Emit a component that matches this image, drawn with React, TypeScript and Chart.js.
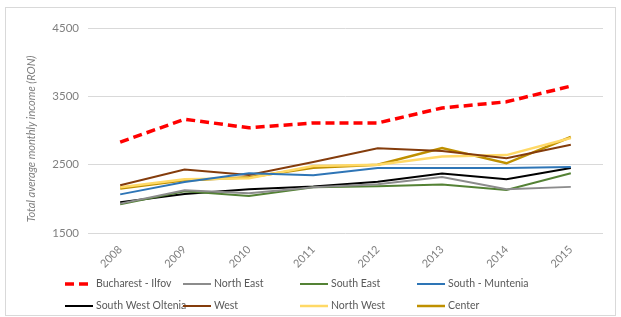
import React, { useEffect, useRef } from "react";
import { Chart, registerables } from "chart.js";

Chart.register(...registerables);

const years = ["2008", "2009", "2010", "2011", "2012", "2013", "2014", "2015"];
const bucharestIlfov = [2830, 3165, 3040, 3110, 3110, 3330, 3420, 3650];
const northEast = [1930, 2125, 2080, 2170, 2215, 2320, 2140, 2175];
const southEast = [1920, 2110, 2040, 2170, 2185, 2210, 2130, 2375];
const southMuntenia = [2065, 2245, 2375, 2345, 2450, 2450, 2450, 2465];
const southWestOltenia = [1950, 2070, 2140, 2180, 2250, 2370, 2285, 2450];
const west = [2200, 2430, 2350, 2540, 2740, 2700, 2595, 2790];
const northWest = [2170, 2285, 2300, 2480, 2500, 2620, 2640, 2890];
const center = [2150, 2270, 2315, 2455, 2500, 2745, 2520, 2905];
const yTicks = [1500, 2500, 3500, 4500];
const yTitle = "Total average monthly income (RON)";

const FONT = "Lato, 'Liberation Sans', Arial, sans-serif";
const TEXT = "#595959";

const series = [
  { label: "Bucharest - Ilfov", data: bucharestIlfov, color: "#ff0000", width: 3.5, dash: [9, 5] },
  { label: "North East", data: northEast, color: "#8c8c8c", width: 2, dash: [] },
  { label: "South East", data: southEast, color: "#548235", width: 2, dash: [] },
  { label: "South - Muntenia", data: southMuntenia, color: "#2e75b6", width: 2, dash: [] },
  { label: "South West Oltenia", data: southWestOltenia, color: "#000000", width: 2, dash: [] },
  { label: "West", data: west, color: "#843c0c", width: 2, dash: [] },
  { label: "North West", data: northWest, color: "#ffd966", width: 2.5, dash: [] },
  { label: "Center", data: center, color: "#bf9000", width: 2.5, dash: [] },
];

const frameLegendPlugin = {
  id: "frameLegend",
  beforeDraw(chart: any) {
    const ctx = chart.ctx;
    ctx.save();
    ctx.fillStyle = "#ffffff";
    ctx.fillRect(0, 0, chart.width, chart.height);
    ctx.strokeStyle = "#d9d9d9";
    ctx.lineWidth = 1;
    ctx.strokeRect(5.5, 7.5, chart.width - 11, chart.height - 9);
    ctx.restore();
  },
  afterDraw(chart: any) {
    const ctx = chart.ctx;
    ctx.save();
    // y-axis title
    ctx.translate(31, 139);
    ctx.rotate(-Math.PI / 2);
    ctx.font = `italic 11px ${FONT}`;
    ctx.fillStyle = "#7f7f7f";
    ctx.textAlign = "center";
    ctx.textBaseline = "middle";
    ctx.fillText(yTitle, 0, 0);
    ctx.restore();

    ctx.save();
    const colX = [65, 183, 300, 417];
    const rowY = [284, 306];
    ctx.font = `10.5px ${FONT}`;
    ctx.textBaseline = "middle";
    chart.data.datasets.forEach((ds: any, i: number) => {
      const x = colX[i % 4];
      const y = rowY[Math.floor(i / 4)];
      ctx.beginPath();
      ctx.strokeStyle = ds.borderColor;
      ctx.lineWidth = ds.borderWidth;
      ctx.setLineDash(ds.borderDash || []);
      ctx.moveTo(x, y);
      ctx.lineTo(x + 28, y);
      ctx.stroke();
      ctx.setLineDash([]);
      ctx.fillStyle = TEXT;
      ctx.fillText(ds.label, x + 31, y);
    });
    ctx.restore();
  },
};

export default function App() {
  const ref = useRef<HTMLCanvasElement | null>(null);
  useEffect(() => {
    if (!ref.current) return;
    const chart = new Chart(ref.current, {
      type: "line",
      data: {
        labels: years,
        datasets: series.map((s) => ({
          label: s.label,
          data: s.data,
          borderColor: s.color,
          backgroundColor: s.color,
          borderWidth: s.width,
          borderDash: s.dash,
          pointRadius: 0,
          tension: 0,
          fill: false,
        })),
      },
      options: {
        animation: false,
        responsive: false,
        maintainAspectRatio: false,
        layout: { padding: { left: 21, right: 18, top: 28, bottom: 0 } },
        plugins: { legend: { display: false }, tooltip: { enabled: false } },
        scales: {
          x: {
            offset: true,
            grid: { display: false },
            border: { display: false },
            ticks: {
              color: "#7f7f7f",
              font: { family: FONT, size: 11 },
              minRotation: 45,
              maxRotation: 45,
              padding: 2,
            },
            afterFit(scale: any) {
              scale.height = 84;
            },
          },
          y: {
            min: 1500,
            max: 4500,
            afterBuildTicks(scale: any) {
              scale.ticks = yTicks.map((v) => ({ value: v }));
            },
            grid: { color: "#d9d9d9", lineWidth: 1, drawTicks: false },
            border: { display: false },
            ticks: {
              color: "#7f7f7f",
              font: { family: FONT, size: 11.5 },
              padding: 9,
              callback: (v: any) => String(v),
            },
            afterFit(scale: any) {
              scale.width = 67;
            },
          },
        },
      },
      plugins: [frameLegendPlugin],
    });
    return () => chart.destroy();
  }, []);
  return (
    <div style={{ position: "fixed", left: 0, top: 0, width: 621, height: 317, background: "#fff" }}>
      <canvas ref={ref} width={621} height={317} style={{ display: "block", width: 621, height: 317 }} />
    </div>
  );
}
